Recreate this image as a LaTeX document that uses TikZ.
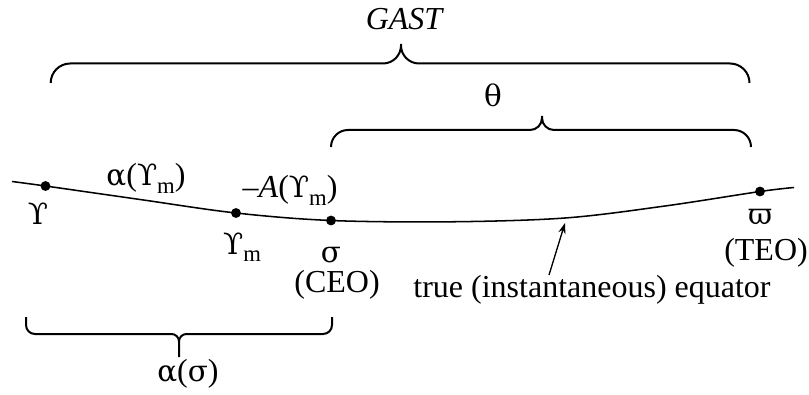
\documentclass[tikz,border=0pt]{standalone}
\usepackage{fontspec}
\setmainfont{Liberation Serif}
\newfontfamily\grk[Scale=0.92]{DejaVu Serif}
\usetikzlibrary{arrows.meta}
\newcommand\mysubm{\raisebox{-0.5ex}{\fontsize{17}{17}\rmfamily\selectfont m}}
\begin{document}
\begin{tikzpicture}[x=0.75pt,y=-0.75pt,
  every node/.style={font=\fontsize{24}{28}\selectfont},
  lbl/.style={inner sep=0pt,anchor=base},
  dot/.style={circle,fill=black,inner sep=0pt,minimum size=7.4pt},
  curly/.style={line width=1.5pt},
  eqline/.style={line width=1.15pt},
  pointer/.style={line width=1pt,-{Stealth[length=8pt,width=5.5pt]}}]
\useasboundingbox (0,0) rectangle (809,395);

% equator curve
\coordinate (c0) at (12,181.5);
\coordinate (c1) at (45.5,186);
\coordinate (c2) at (140,199.5);
\coordinate (c3) at (236,213);
\coordinate (c4) at (331,220.5);
\coordinate (c5) at (450,221.8);
\coordinate (c6) at (565,218);
\coordinate (c7) at (665,206);
\coordinate (c8) at (760,191.5);
\coordinate (c9) at (794,187.5);
\draw[eqline] plot[smooth,tension=0.55] coordinates {(c0) (c1) (c2) (c3) (c4) (c5) (c6) (c7) (c8) (c9)};

\node[dot] (U)  at (c1) {};
\node[dot] (Um) at (c3) {};
\node[dot] (S)  at (c4) {};
\node[dot] (W)  at (c8) {};

% labels on curve
\node[lbl] (tU)   at (38,224)  {\grk ϒ};
\node[lbl] (taU)  at (146,186) {{\grk α}(\grk ϒ\mysubm\rmfamily)};
\node[lbl] (tAU)  at (290,198) {–\textit{A}(\grk ϒ\mysubm\rmfamily)};
\node[lbl] (tUm)  at (242,254) {\grk ϒ\mysubm};
\node[lbl] (tS)   at (331,262) {\grk σ};
\node[lbl] (tCEO) at (337,292) {(CEO)};
\node[lbl] (tW)   at (760,224) {\grk ϖ};
\node[lbl] (tTEO) at (766,260) {(TEO)};

% pointer
\node[lbl] (tEq) at (592,297) {true (instantaneous) equator};
\coordinate (arrTail) at (549,275);
\coordinate (arrTip) at (565,223);
\draw[pointer] (arrTail) -- (arrTip);

% GAST brace
\coordinate (g1) at (50.7,83);
\coordinate (g2) at (749.5,83);
\coordinate (gT) at (401,44);
\draw[curly] (g1) .. controls (50.7,72.2) and (59.4,63.5) .. (70.2,63.5)
  -- (383,63.5) .. controls (392.9,63.5) and (401,55.4) .. (401,45.5) -- (gT)
  -- (401,45.5) .. controls (401,55.4) and (409.1,63.5) .. (419,63.5)
  -- (730,63.5) .. controls (740.8,63.5) and (749.5,72.2) .. (g2);
\node[lbl] (tGAST) at (405,30) {\textit{GAST}};

% theta brace
\coordinate (t1) at (331,147);
\coordinate (t2) at (751,147);
\coordinate (tT) at (542,116);
\draw[curly] (t1) .. controls (331,137.6) and (338.6,130) .. (348,130)
  -- (530,130) .. controls (536.6,130) and (542,124.6) .. (542,118) -- (tT)
  -- (542,118) .. controls (542,124.6) and (547.4,130) .. (554,130)
  -- (734,130) .. controls (743.4,130) and (751,137.6) .. (t2);
\node[lbl] (tTheta) at (493,107) {\grk θ};

% alpha(sigma) brace
\coordinate (a1) at (26,317);
\coordinate (a2) at (332,317);
\coordinate (aT) at (179,357);
\draw[curly] (a1) -- (26,325) .. controls (26,330) and (30,334) .. (35,334)
  -- (171.5,334) .. controls (175.6,334) and (179,337.4) .. (179,341.5) -- (aT)
  -- (179,341.5) .. controls (179,337.4) and (182.4,334) .. (186.5,334)
  -- (323,334) .. controls (328,334) and (332,330) .. (332,325) -- (a2);
\node[lbl] (tAS) at (188,381) {{\grk α}({\grk σ})};
\end{tikzpicture}
\end{document}
